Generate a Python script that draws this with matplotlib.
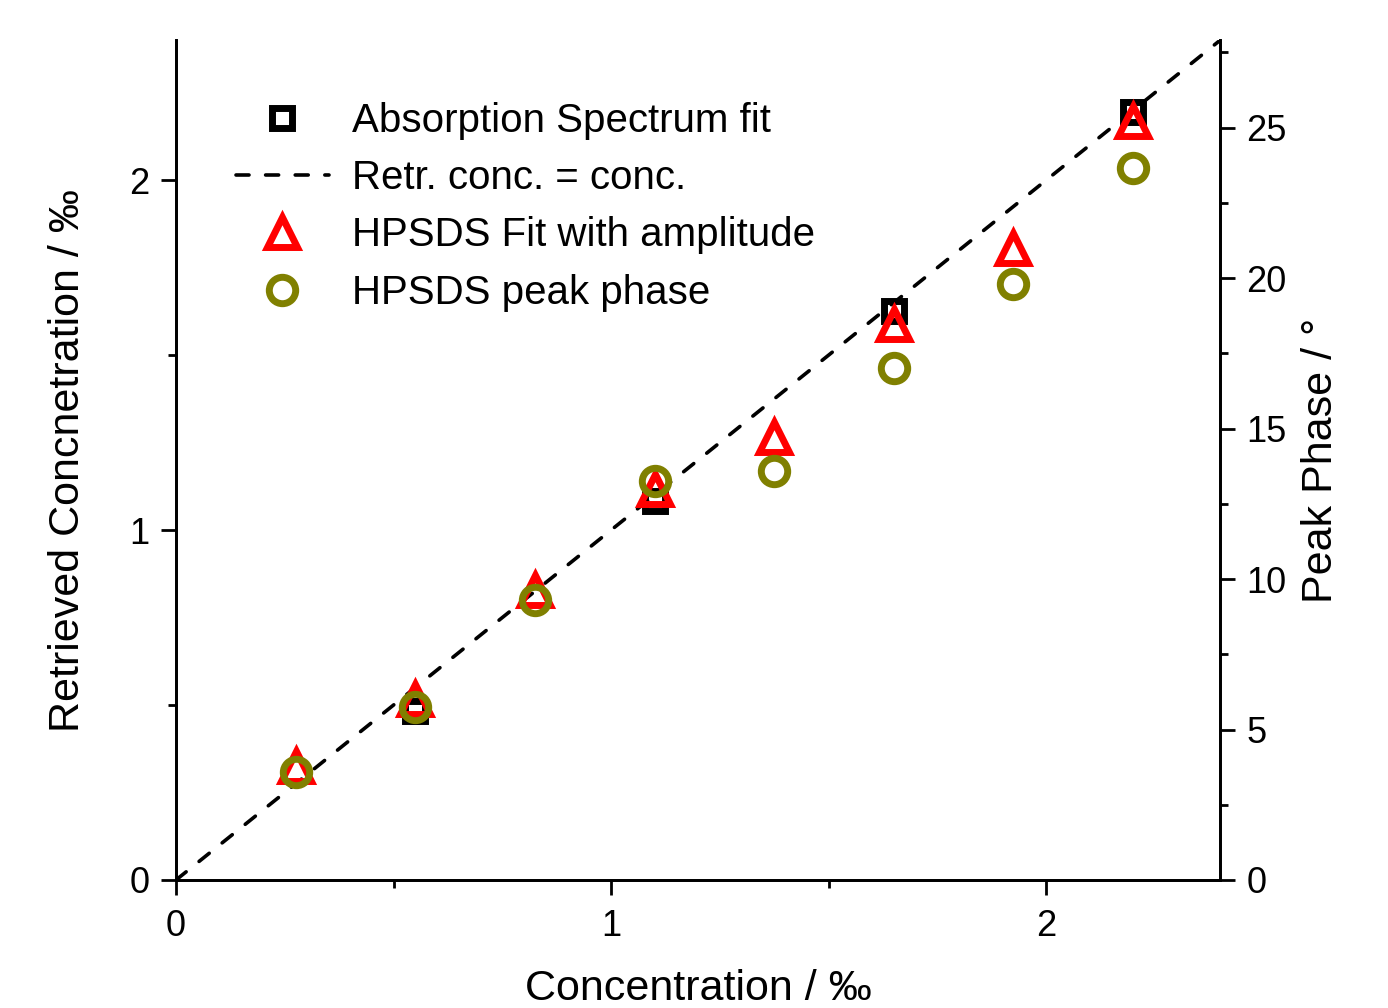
import matplotlib

matplotlib.use("Agg")
import matplotlib.pyplot as plt
from matplotlib.ticker import MultipleLocator

plt.rcParams.update({"font.family": ["Liberation Sans", "DejaVu Sans"]})

# concentration steps (‰)
conc = [0.275, 0.55, 0.825, 1.1, 1.375, 1.65, 1.925, 2.2]
# absorption spectrum fit: only every second sample
conc_abs = [0.55, 1.1, 1.65, 2.2]
retr_abs = [0.483, 1.083, 1.626, 2.194]
# HPSDS fit with amplitude (‰)
retr_hpsds = [0.326, 0.517, 0.829, 1.117, 1.265, 1.59, 1.805, 2.17]
# HPSDS peak phase (degrees, right axis)
phase = [3.58, 5.74, 9.29, 13.27, 13.6, 17.0, 19.8, 23.65]
ident = [0.0, 2.4]

RED, OLIVE = "#FF0000", "#808000"

fig = plt.figure(figsize=(13.88, 10.08), dpi=100)
ax = fig.add_axes([0.1268, 0.127, 0.7522, 0.833])
ax2 = ax.twinx()

ln, = ax.plot(ident, ident, color="black", lw=2.6, ls=(0, (3.6, 4.6)),
              dash_capstyle="round", label="Retr. conc. = conc.", zorder=2)
sq, = ax.plot(conc_abs, retr_abs, ls="none", marker="s", ms=15, mew=5,
              mfc="none", mec="black", label="Absorption Spectrum fit", zorder=3)
tri, = ax.plot(conc, retr_hpsds, ls="none", marker="^", ms=21, mew=5,
               mfc="none", mec=RED, label="HPSDS Fit with amplitude", zorder=4)
cir, = ax2.plot(conc, phase, ls="none", marker="o", ms=19, mew=5,
                mfc="none", mec=OLIVE, label="HPSDS peak phase", zorder=5)

ax.set_xlim(0, 2.4)
ax.set_ylim(0, 2.4)
ax2.set_ylim(0, 27.9)

ax.xaxis.set_major_locator(MultipleLocator(1))
ax.xaxis.set_minor_locator(MultipleLocator(0.5))
ax.yaxis.set_major_locator(MultipleLocator(1))
ax.yaxis.set_minor_locator(MultipleLocator(0.5))
ax2.yaxis.set_major_locator(MultipleLocator(5))
ax2.yaxis.set_minor_locator(MultipleLocator(2.5))

for a in (ax, ax2):
    a.spines["top"].set_visible(False)
    for s in a.spines.values():
        s.set_linewidth(2)
    a.tick_params(which="major", direction="out", length=11, width=2,
                  labelsize=26, pad=8)
    a.tick_params(which="minor", direction="out", length=6, width=2)
ax.tick_params(axis="x", pad=10)

ax.set_xlabel("Concentration / ‰", fontsize=31, labelpad=18)
ax.set_ylabel("Retrieved Concnetration / ‰", fontsize=31, labelpad=30)
ax2.set_ylabel("Peak Phase / °", fontsize=31, labelpad=10)

ax2.legend(handles=[sq, ln, tri, cir], loc="upper left",
           bbox_to_anchor=(0.057, 0.927), frameon=False, fontsize=29,
           handlelength=2.33, handletextpad=0.55, labelspacing=0.48,
           borderpad=0, borderaxespad=0)

fig.savefig("out.png", dpi=100)
